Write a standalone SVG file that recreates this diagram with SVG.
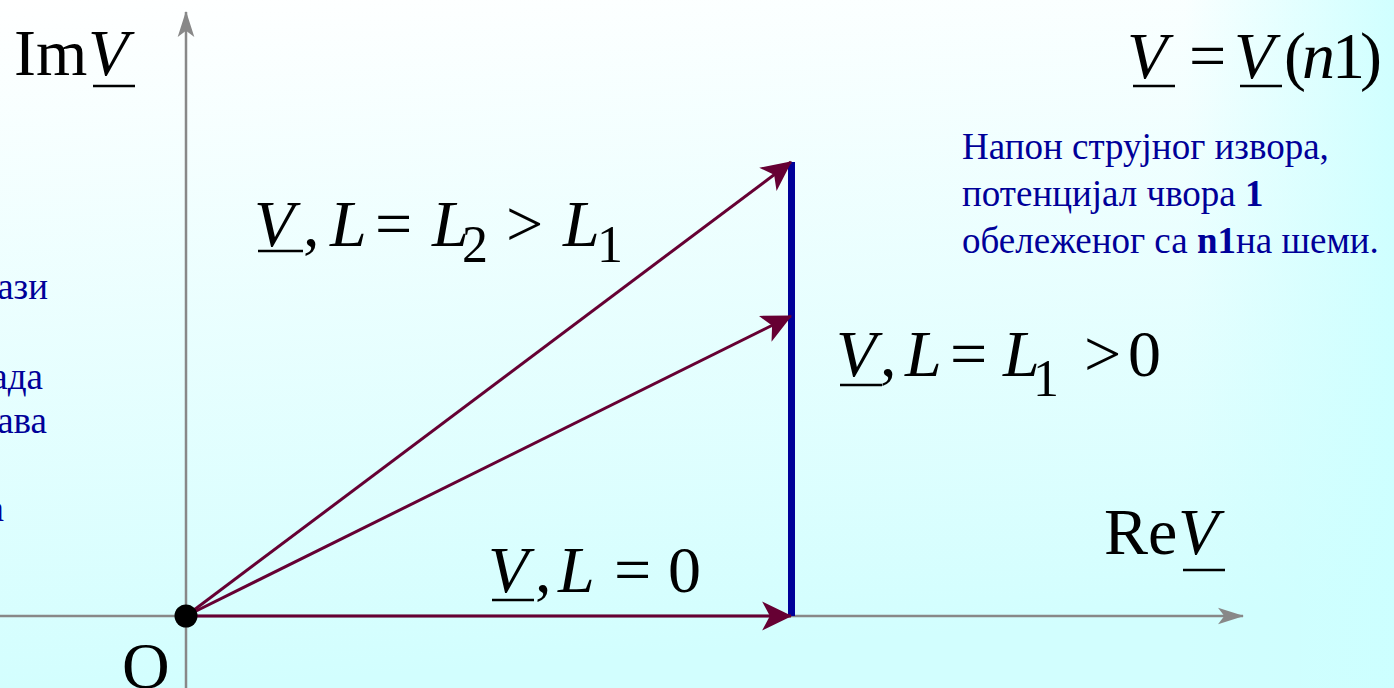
<svg xmlns="http://www.w3.org/2000/svg" width="1394" height="688" viewBox="0 0 1394 688">
<defs>
<linearGradient id="bg" x1="0" y1="0" x2="0.15" y2="1">
<stop offset="0" stop-color="#ffffff"/>
<stop offset="1" stop-color="#d2fefe"/>
</linearGradient>
<linearGradient id="bgr" x1="0" y1="0" x2="1" y2="0">
<stop offset="0.85" stop-color="#ccffff" stop-opacity="0"/>
<stop offset="1" stop-color="#ccffff" stop-opacity="0.9"/>
</linearGradient>
<marker id="ah" markerUnits="userSpaceOnUse" markerWidth="30" markerHeight="30" viewBox="0 0 27 26" refX="26" refY="13" orient="auto">
<path d="M0,0 L27,13 L0,26 L7,13 z" fill="#660033"/>
</marker>
<marker id="ax" markerUnits="userSpaceOnUse" markerWidth="26" markerHeight="18" viewBox="0 0 25 16" refX="24" refY="8" orient="auto">
<path d="M0,0 L25,8 L0,16 L6,8 z" fill="#888888"/>
</marker>
<style>
.m{font-family:"Liberation Serif","Times New Roman",serif;font-size:66px;fill:#000}
.i{font-style:italic}
.s{font-size:52px}
.ax{stroke:#888888;stroke-width:2.5;fill:none}
.vec{stroke:#660033;stroke-width:3;fill:none}
.ul{stroke:#000;stroke-width:2.5}
.note{font-family:"Liberation Serif","Times New Roman",serif;font-size:37px;fill:#000099}
.b{font-weight:bold}
</style>
</defs>
<rect width="1394" height="688" fill="url(#bg)"/>
<rect width="1394" height="688" fill="url(#bgr)"/>

<g id="axes">
<line class="ax" x1="186" y1="688" x2="186" y2="12" marker-end="url(#ax)"/>
<line class="ax" x1="0" y1="616" x2="1243" y2="616" marker-end="url(#ax)"/>
</g>

<g id="source-line">
<line x1="791.5" y1="162" x2="791.5" y2="616" stroke="#000099" stroke-width="7"/>
</g>

<g id="connectors">
<line class="vec" x1="186" y1="616" x2="791" y2="162" marker-end="url(#ah)"/>
<line class="vec" x1="186" y1="616" x2="791" y2="316" marker-end="url(#ah)"/>
<line class="vec" x1="186" y1="616" x2="791" y2="616" marker-end="url(#ah)"/>
</g>

<g id="origin">
<circle cx="186" cy="616" r="11.5" fill="#000"/>
<text class="m" x="122" y="688" font-size="64">O</text>
</g>

<g id="label-im">
<text class="m" y="75" font-size="64"><tspan x="14">Im</tspan><tspan class="i" x="88">V</tspan></text>
<line class="ul" x1="93" y1="86" x2="135" y2="86"/>
</g>

<g id="label-re">
<text class="m" y="554" font-size="64"><tspan x="1104">Re</tspan><tspan class="i" x="1178">V</tspan></text>
<line class="ul" x1="1183" y1="570" x2="1225" y2="570"/>
</g>

<g id="label-formula">
<text class="m" y="78"><tspan class="i" x="1127">V</tspan><tspan x="1189">=</tspan><tspan class="i" x="1234">V</tspan><tspan x="1284">(</tspan><tspan class="i" dx="-4">n</tspan><tspan dx="-3">1</tspan><tspan dx="-5">)</tspan></text>
<line class="ul" x1="1133" y1="86" x2="1175" y2="86"/>
<line class="ul" x1="1240" y1="86" x2="1282" y2="86"/>
</g>

<g id="label-L2">
<text class="m" y="246"><tspan class="i" x="254">V</tspan><tspan x="303">,</tspan><tspan class="i" x="330">L</tspan><tspan x="375">=</tspan><tspan class="i" x="432">L</tspan><tspan class="s" x="462" y="262">2</tspan><tspan x="506" y="246">&gt;</tspan><tspan class="i" x="563">L</tspan><tspan class="s" x="597" y="262">1</tspan></text>
<line class="ul" x1="258" y1="251" x2="303" y2="251"/>
</g>

<g id="label-L1">
<text class="m" y="376"><tspan class="i" x="836">V</tspan><tspan x="880">,</tspan><tspan class="i" x="905">L</tspan><tspan x="950">=</tspan><tspan class="i" x="1003">L</tspan><tspan class="s" x="1033" y="396">1</tspan><tspan x="1084" y="376">&gt;</tspan><tspan x="1128">0</tspan></text>
<line class="ul" x1="840" y1="385" x2="882" y2="385"/>
</g>

<g id="label-L0">
<text class="m" y="592"><tspan class="i" x="488">V</tspan><tspan x="535">,</tspan><tspan class="i" x="558">L</tspan><tspan x="614">=</tspan><tspan x="668">0</tspan></text>
<line class="ul" x1="492" y1="600" x2="534" y2="600"/>
</g>

<g id="note">
<text class="note" x="962" y="159">Напон струјног извора,</text>
<text class="note" x="962" y="206">потенцијал чвора <tspan class="b">1</tspan></text>
<text class="note" x="962" y="253">обележеног са <tspan class="b">n1</tspan>на шеми.</text>
</g>

<g id="left-note">
<text class="note" x="48" y="299" text-anchor="end">ази</text>
<text class="note" x="43" y="389" text-anchor="end">ада</text>
<text class="note" x="47" y="433" text-anchor="end">ава</text>
<text class="note" x="4" y="521" text-anchor="end">а</text>
</g>
</svg>
